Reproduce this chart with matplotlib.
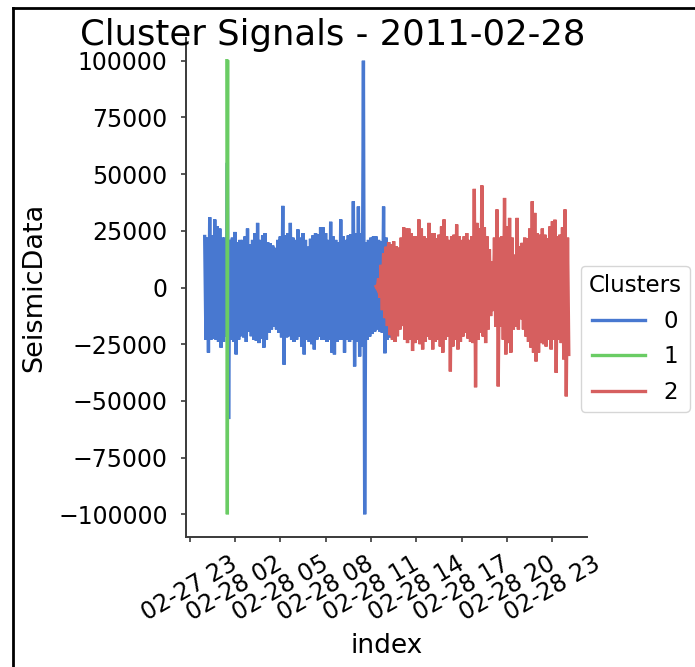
import matplotlib
matplotlib.use("Agg")
import matplotlib.pyplot as plt
import matplotlib.dates as mdates
from matplotlib.lines import Line2D
from matplotlib.ticker import MultipleLocator
import pandas as pd

# Seismic amplitude peaks/troughs, one pair per 10-minute window
day = pd.Timestamp("2011-02-28 00:00")

cluster_labels = ["0", "1", "2"]
cluster_colors = ["#4878d0", "#6acc64", "#d65f5f"]

# cluster 0: windows 0..74
c0_start = 0
c0_peaks = [22500, 22000, 31000, 23000, 30000, 27000, 26000, 22000, 22000, 55000,
            21000, 22000, 24500, 20000, 21000, 21000, 22500, 26000, 19000, 21000,
            24000, 28500, 21000, 23000, 24000, 20000, 19500, 18500, 17500, 21000,
            22500, 36000, 23000, 24000, 28500, 22000, 21000, 25600, 22000, 24000,
            21000, 18000, 21500, 23000, 24000, 23500, 26500, 26500, 24000, 21000,
            29000, 22500, 21000, 20000, 30000, 22500, 21000, 23000, 23500, 38000,
            24000, 35700, 24000, 100000, 20000, 21000, 22000, 22500, 22500, 21000,
            20500, 35700, 22000, 20000, 18000]
c0_troughs = [-23000, -28700, -23000, -22500, -23000, -24000, -26500, -24000, -21500, -58000,
              -23000, -24000, -29500, -23000, -21500, -22000, -24000, -19400, -21500, -23000,
              -23500, -24500, -22500, -26500, -23000, -20000, -18500, -17200, -18500, -20000,
              -22000, -34000, -22000, -21500, -23000, -24000, -23000, -21600, -26000, -29500,
              -23000, -24000, -25000, -27300, -23000, -21600, -23000, -23000, -24000, -23000,
              -28700, -29500, -24000, -23000, -23000, -28700, -23000, -24000, -23000, -34800,
              -24000, -30400, -26000, -100000, -23000, -21600, -20500, -19400, -18500, -19400,
              -20000, -29000, -23000, -22000, -20000]

# cluster 1: short saturated burst
c1_times = ["2011-02-28 01:28", "2011-02-28 01:30", "2011-02-28 01:32"]
c1_values = [100000, -100000, 99500]

# cluster 2: windows 68..144
c2_start = 68
c2_peaks = [500, 4000, 10000, 15000, 18000, 20000, 19000, 20400, 18200, 17600,
            22000, 26500, 26000, 26000, 24000, 22600, 22600, 30000, 26000, 22600,
            21800, 28500, 24000, 24000, 21800, 23300, 26900, 30000, 22600, 21000,
            22600, 23300, 27800, 22600, 21000, 22600, 24000, 21000, 22600, 43500,
            28500, 26000, 45000, 26500, 22600, 16800, 11600, 22000, 34400, 22000,
            22600, 39500, 27000, 30700, 22000, 14500, 30700, 18200, 19700, 22000,
            21800, 26000, 38000, 32900, 24000, 23300, 26000, 23300, 21800, 26900,
            29200, 29900, 22600, 23300, 26500, 34400, 22000]
c2_troughs = [-500, -4500, -10000, -13500, -17000, -21000, -23000, -24000, -21500, -18500,
              -17000, -23000, -24500, -23000, -28000, -24500, -23000, -25000, -27300, -24000,
              -21600, -23000, -27300, -24000, -23000, -26000, -28700, -23000, -21600, -37000,
              -26000, -23000, -27300, -24000, -21600, -20000, -22500, -24000, -24500, -44000,
              -23000, -20000, -21600, -24500, -18500, -12600, -10400, -17200, -43600, -17200,
              -23000, -29500, -24500, -28700, -18500, -17200, -18500, -14000, -18500, -21600,
              -24000, -26500, -28700, -32600, -28700, -24500, -25000, -26000, -23000, -27300,
              -23000, -37600, -23000, -24500, -31700, -48000, -29500]


def windowed_series(start, peaks, troughs):
    times, values = [], []
    for k, (p, q) in enumerate(zip(peaks, troughs)):
        t0 = day + pd.Timedelta(minutes=10 * (start + k))
        times += [t0, t0 + pd.Timedelta(minutes=5)]
        values += [p, q]
    return pd.to_datetime(times), values


series = [
    windowed_series(c0_start, c0_peaks, c0_troughs),
    (pd.to_datetime(c1_times), c1_values),
    windowed_series(c2_start, c2_peaks, c2_troughs),
]

fig = plt.figure(figsize=(6.95, 6.67), dpi=100)
ax = fig.add_axes([0.2683, 0.1949, 0.5763, 0.7481])

for (t, v), col in zip(series, cluster_colors):
    ax.plot(t, v, color=col, lw=2.4, solid_joinstyle="miter")

ax.xaxis.set_major_locator(mdates.HourLocator(byhour=[2, 5, 8, 11, 14, 17, 20, 23]))
ax.xaxis.set_major_formatter(mdates.DateFormatter("%m-%d %H"))
ax.yaxis.set_major_locator(MultipleLocator(25000))

for side in ("top", "right"):
    ax.spines[side].set_visible(False)
for side in ("left", "bottom"):
    ax.spines[side].set_color("#3a3a3a")
    ax.spines[side].set_linewidth(1.4)

ax.tick_params(axis="both", length=3.5, width=1.2, color="#3a3a3a", labelsize=17)
ax.tick_params(axis="y", pad=10)
ax.tick_params(axis="x", pad=7)
plt.setp(ax.get_xticklabels(), rotation=30, ha="center")

ax.set_xlabel("index", fontsize=19, labelpad=5)
ax.set_ylabel("SeismicData", fontsize=19.5, labelpad=8)

fig.text(0.478, 1 - 45 / 667, "Cluster Signals - 2011-02-28", fontsize=25.5,
         ha="center", va="baseline")

handles = [Line2D([], [], color=c, lw=2.4) for c in cluster_colors]
fig.legend(handles, cluster_labels, title="Clusters", loc="center right",
           bbox_to_anchor=(690 / 695, 0.492), borderaxespad=0,
           fontsize=16.5, title_fontsize=16.5,
           handlelength=2.3, handletextpad=0.8, labelspacing=0.55,
           borderpad=0.36, frameon=True, edgecolor="0.8")

# border lines along the top and left edges
fig.add_artist(Line2D([13 / 695, 1.0], [1 - 8 / 667, 1 - 8 / 667],
                      transform=fig.transFigure, color="black", lw=2))
fig.add_artist(Line2D([13 / 695, 13 / 695], [0.0, 1 - 8 / 667],
                      transform=fig.transFigure, color="black", lw=2))

fig.savefig("out.png", dpi=100)
